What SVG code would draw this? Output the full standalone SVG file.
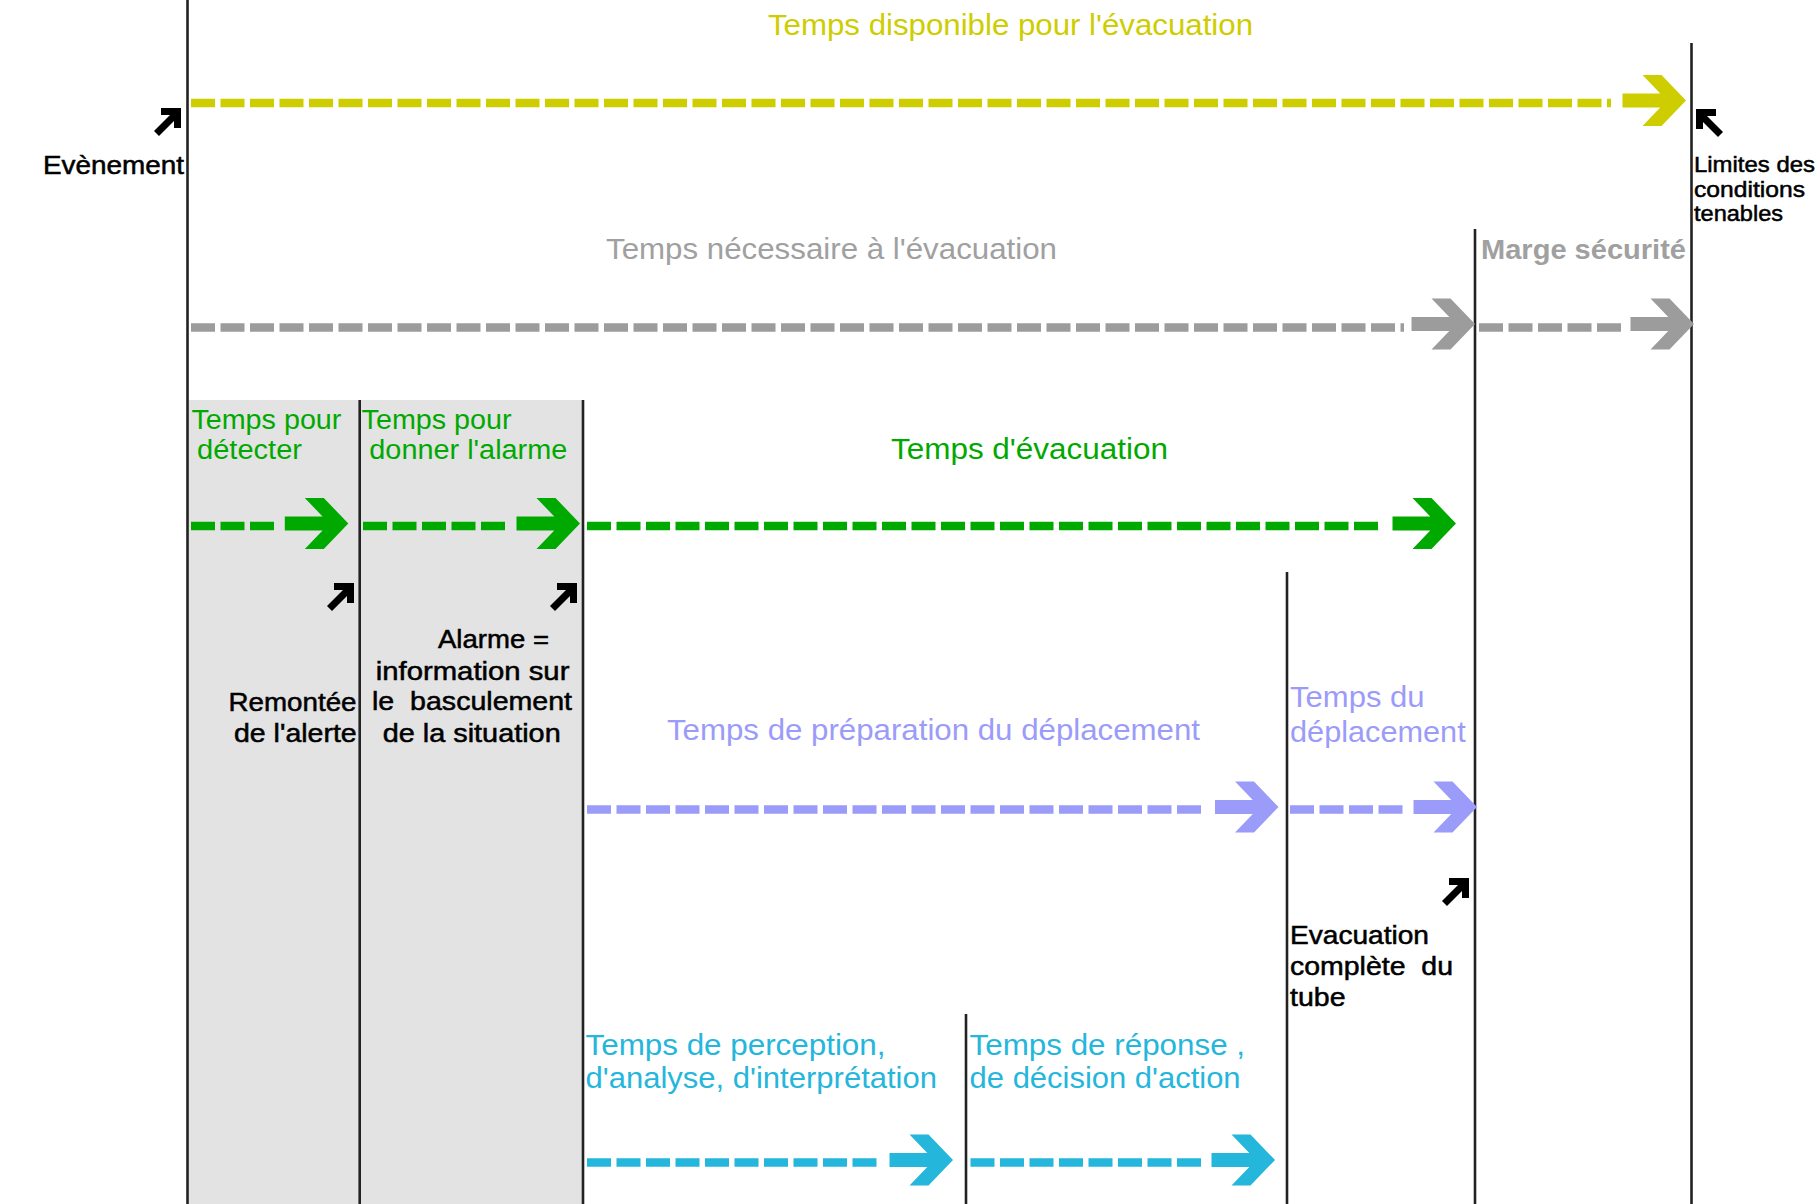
<svg xmlns="http://www.w3.org/2000/svg" xmlns:xlink="http://www.w3.org/1999/xlink" width="1820" height="1204" viewBox="0 0 1820 1204">
<style>
  text { font-family: "Liberation Sans", Arial, sans-serif; }
  .vl { stroke: #222; stroke-width: 2.6; fill: none; }
  .dash { stroke-width: 8.5; stroke-dasharray: 24 5.5; fill: none; }
  .y { stroke: #cdcd00; fill: #cdcd00; }
  .g { stroke: #9c9c9c; fill: #9c9c9c; }
  .gr { stroke: #00a900; fill: #00a900; }
  .p { stroke: #9b9bfa; fill: #9b9bfa; }
  .c { stroke: #25b6db; fill: #25b6db; }
  .ty { fill: #cdcd00; font-size: 30px; }
  .tg { fill: #a0a0a0; font-size: 30px; }
  .tgr { fill: #00a900; font-size: 27px; }
  .tp { fill: #9b9bfa; font-size: 29px; }
  .tc { fill: #25b6db; font-size: 29px; }
  .tb { fill: #000; font-size: 25px; stroke: #000; stroke-width: 0.5; }
  .tbs { fill: #000; font-size: 22px; stroke: #000; stroke-width: 0.5; }
</style>
<defs>
  <path id="ah" stroke="none" d="M-63.5,-7 H-15 V7 H-63.5 Z M-43.5,-25.5 H-24.5 L0,0 L-24.5,25.5 H-43.5 L-19,0 Z"/>
  <g id="ne" stroke="#000" stroke-width="7" fill="none">
    <path d="M3.5,26.5 L22,8"/>
    <path d="M8,4.5 L24.5,4.5 L24.5,21" stroke-linejoin="miter"/>
  </g>
</defs>
<rect id="shade" x="187.5" y="400" width="395.5" height="804" fill="#e3e3e3"/>
<g id="timelines">
  <line class="vl" x1="187.5" y1="0" x2="187.5" y2="1204" stroke-width="3"/>
  <line class="vl" x1="359.7" y1="400" x2="359.7" y2="1204" stroke-width="3"/>
  <line class="vl" x1="583" y1="400" x2="583" y2="1204" stroke-width="3"/>
  <line class="vl" x1="966" y1="1014" x2="966" y2="1204"/>
  <line class="vl" x1="1287" y1="572" x2="1287" y2="1204"/>
  <line class="vl" x1="1475" y1="229" x2="1475" y2="1204"/>
  <line class="vl" x1="1691.5" y1="43" x2="1691.5" y2="1204"/>
</g>
<g id="connectors">
  <line class="dash y" x1="191" y1="103" x2="1611" y2="103"/>
  <use href="#ah" class="y" transform="translate(1686,100.5)"/>
  <line class="dash g" x1="191" y1="327.5" x2="1404" y2="327.5"/>
  <use href="#ah" class="g" transform="translate(1475,324)"/>
  <line class="dash g" x1="1479" y1="327.5" x2="1623" y2="327.5"/>
  <use href="#ah" class="g" transform="translate(1694,324)"/>
  <line class="dash gr" x1="191" y1="526" x2="277" y2="526"/>
  <use href="#ah" class="gr" transform="translate(348.3,523.5)"/>
  <line class="dash gr" x1="363" y1="526" x2="508" y2="526"/>
  <use href="#ah" class="gr" transform="translate(580,523.5)"/>
  <line class="dash gr" x1="587" y1="526" x2="1383" y2="526"/>
  <use href="#ah" class="gr" transform="translate(1456,523.5)"/>
  <line class="dash p" x1="587" y1="809.5" x2="1206" y2="809.5"/>
  <use href="#ah" class="p" transform="translate(1278.5,807)"/>
  <line class="dash p" x1="1290" y1="809.5" x2="1406" y2="809.5"/>
  <use href="#ah" class="p" transform="translate(1477,807)"/>
  <line class="dash c" x1="587" y1="1162.5" x2="879" y2="1162.5"/>
  <use href="#ah" class="c" transform="translate(953,1160)"/>
  <line class="dash c" x1="970.5" y1="1162.5" x2="1203" y2="1162.5"/>
  <use href="#ah" class="c" transform="translate(1275,1160)"/>
  <use href="#ne" transform="translate(153,107)"/>
  <use href="#ne" transform="translate(1724,108) scale(-1,1)"/>
  <use href="#ne" transform="translate(326,582)"/>
  <use href="#ne" transform="translate(549,582)"/>
  <use href="#ne" transform="translate(1441,877)"/>
</g>
<g id="n-dispo"><text class="ty" x="768" y="35" textLength="485" lengthAdjust="spacingAndGlyphs">Temps disponible pour l'évacuation</text></g>
<g id="n-evenement"><text class="tb" x="43" y="174" textLength="141" lengthAdjust="spacingAndGlyphs">Evènement</text></g>
<g id="n-limites">
  <text class="tbs" x="1694" y="172" textLength="121" lengthAdjust="spacingAndGlyphs">Limites des</text>
  <text class="tbs" x="1694" y="197" textLength="111" lengthAdjust="spacingAndGlyphs">conditions</text>
  <text class="tbs" x="1694" y="221" textLength="89" lengthAdjust="spacingAndGlyphs">tenables</text>
</g>
<g id="n-necessaire"><text class="tg" x="606" y="259" textLength="451" lengthAdjust="spacingAndGlyphs">Temps nécessaire à l'évacuation</text></g>
<g id="n-marge"><text class="tg" x="1481" y="259" font-weight="bold" style="font-size:27px" textLength="205" lengthAdjust="spacingAndGlyphs">Marge sécurité</text></g>
<g id="n-detecter">
  <text class="tgr" x="191.4" y="429" textLength="150" lengthAdjust="spacingAndGlyphs">Temps pour</text>
  <text class="tgr" x="197" y="459" textLength="105" lengthAdjust="spacingAndGlyphs">détecter</text>
</g>
<g id="n-alarme">
  <text class="tgr" x="361.6" y="429" textLength="150" lengthAdjust="spacingAndGlyphs">Temps pour</text>
  <text class="tgr" x="369.3" y="459" textLength="198" lengthAdjust="spacingAndGlyphs">donner l'alarme</text>
</g>
<g id="n-evacuation"><text class="tgr" x="891" y="459" style="font-size:29px" textLength="277" lengthAdjust="spacingAndGlyphs">Temps d'évacuation</text></g>
<g id="n-remontee">
  <text class="tb" x="228.5" y="711" textLength="128" lengthAdjust="spacingAndGlyphs">Remontée</text>
  <text class="tb" x="234" y="742" textLength="122.7" lengthAdjust="spacingAndGlyphs">de l'alerte</text>
</g>
<g id="n-alarme-info">
  <text class="tb" x="438" y="648" textLength="111" lengthAdjust="spacingAndGlyphs">Alarme =</text>
  <text class="tb" x="375.8" y="680" textLength="193.6" lengthAdjust="spacingAndGlyphs">information sur</text>
  <text class="tb" x="372" y="710" xml:space="preserve" textLength="200" lengthAdjust="spacingAndGlyphs">le  basculement</text>
  <text class="tb" x="382.7" y="742" textLength="178" lengthAdjust="spacingAndGlyphs">de la situation</text>
</g>
<g id="n-preparation"><text class="tp" x="667" y="740" textLength="533" lengthAdjust="spacingAndGlyphs">Temps de préparation du déplacement</text></g>
<g id="n-deplacement">
  <text class="tp" x="1290" y="707" textLength="134.6" lengthAdjust="spacingAndGlyphs">Temps du</text>
  <text class="tp" x="1290" y="742" textLength="175.7" lengthAdjust="spacingAndGlyphs">déplacement</text>
</g>
<g id="n-complete">
  <text class="tb" x="1290" y="944" textLength="139" lengthAdjust="spacingAndGlyphs">Evacuation</text>
  <text class="tb" x="1290" y="975" xml:space="preserve" textLength="163" lengthAdjust="spacingAndGlyphs">complète  du</text>
  <text class="tb" x="1290" y="1006" textLength="55.5" lengthAdjust="spacingAndGlyphs">tube</text>
</g>
<g id="n-perception">
  <text class="tc" x="585.5" y="1055" textLength="300" lengthAdjust="spacingAndGlyphs">Temps de perception,</text>
  <text class="tc" x="585.5" y="1088" textLength="351.5" lengthAdjust="spacingAndGlyphs">d'analyse, d'interprétation</text>
</g>
<g id="n-reponse">
  <text class="tc" x="969.6" y="1055" textLength="275.4" lengthAdjust="spacingAndGlyphs">Temps de réponse ,</text>
  <text class="tc" x="969.6" y="1088" textLength="271" lengthAdjust="spacingAndGlyphs">de décision d'action</text>
</g>
</svg>
